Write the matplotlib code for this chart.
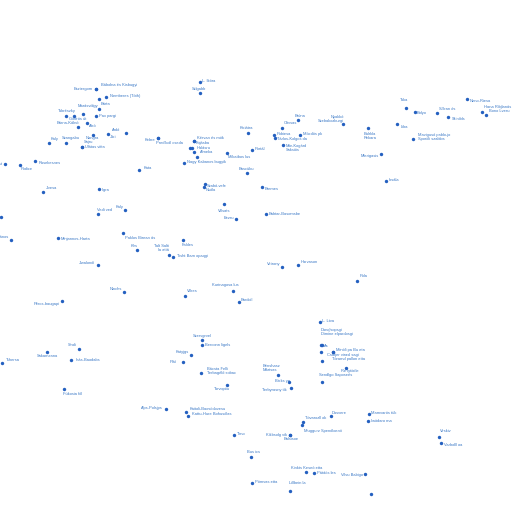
import matplotlib
matplotlib.use("Agg")
import matplotlib.pyplot as plt

# place names on a 2-D layout (x, y, y grows downward)
names = [
    "Bábolna és Kisbugyi", "Esztergom", "", "Nemberes (Tóth)", "Bárta",
    "Marásvölgy", "Tabrészky", "Pax pargi", "Gödrös út", "Bárna-Kálnó",
    "Alsó", "Ardó", "Jári", "Nangra", "Kaly",
    "Szangabu", "Sajru", "Ulátas vitta", "Kost", "Podice",
    "Rasekesnes", "Jivesa", "Ilgra", "Kaly", "Vedi ved",
    # 25
    "L. Ikóra", "Szlgabb", "Kiciátra", "Kebre", "Predikoll cseda",
    "Kérvan és mök", "Fojásba", "", "Halásru", "Almeka",
    "Mikatbos lus", "Portál", "", "Nagy Kabanos bugyik", "Kata",
    "Bascüku", "Szabó-vele", "Nsóla", "Villsats",
    # 44
    "Brúna", "Oltvsas", "Nyakkó\nSzebakozkurgi", "Bulrkla\nRekara", "Pobiesa",
    "Tárlos-Kolgos da", "Mócdós pk", "Mór-Kogárd\nSaksiós", "Mlerigasis", "Bremes",
    "Babtar-Basomsbe",
    # 55
    "Neno-Riesa", "Taka", "Bolyo", "Sillran ós", "Skinibls",
    "Hana Ribjlanás", "Bono Lveru", "Liba", "Mavigusó pablo-jo\nSporöli szablos", "Iosála",
    # 65
    "", "Vesszános", "Minjannos-Harta", "Paklos Birean ás", "Jiwalondi",
    "Ninchs", "Péros-baugapi", "Sindi", "Sakamsana",
    # 74
    "Eezru", "Faldes", "Klrs", "Talt Salti\nla attá", "Tisht Bam opaqgi",
    "Kurinagosa lus", "Villres", "Bardoll", "Szervgrvel", "Berconn ligels",
    "Katyjgs",
    # 85
    "Vetrony", "Harvason", "Pola", "L. Ltva", "Danqlsopsgi\nDimine elpardosgi",
    "As", "", "Minóli pa Bu eta", "Csatjer virasl sagi",
    # 94
    "Tshersa", "Inás-Baodabs", "Fükosia fól",
    # 97
    "Pláí", "Bácsta Felli\nTerbagélő sobac", "Tarvopitu", "Alps-Polsjps", "Kaitoli-Baosödovesu",
    "Kattu-Hure Bohusólas", "Timo", "Bus ics", "Pómvas etta",
    # 106
    "Bénshasz\nMártsas", "Töramd pallon etta", "Re lytödle", "Sendlgo Saposeés", "Bicks yp",
    "Terbyrasny tik", "Dasvere", "Mamvarös tük", "Iwödaro ma", "Tövarozll ok",
    "Muggurz Spendloenii", "Kikbsolg vik", "Balsisoe", "Kinkts Keseó etta", "Pátáös les",
    "Vilvu Babigo", "Lillbein la", "",
    # 124
    "Virskiv", "Varbolll oa",
]

xs = [
    96, 96, 99, 106, 99,
    83, 66, 96, 74, 78,
    87, 126, 108, 93, 49,
    66, 82, 82, 5, 20,
    35, 43, 99, 125, 98,
    200, 200, 248, 158, 158,
    194, 194, 190, 192, 194,
    227, 252, 197, 184, 139,
    247, 205, 204, 224,
    298, 282, 343, 368, 274,
    275, 300, 283, 381, 262,
    266,
    467, 406, 415, 437, 448,
    482, 486, 397, 413, 386,
    1, 11, 58, 123, 98,
    124, 62, 79, 47,
    236, 183, 137, 169, 173,
    233, 185, 239, 202, 202,
    191,
    282, 298, 357, 320, 321,
    322, 321, 333, 333,
    2, 71, 64,
    183, 201, 227, 166, 186,
    188, 234, 251, 252,
    278, 322, 346, 322, 289,
    291, 331, 369, 368, 303,
    302, 290, 290, 306, 314,
    365, 290, 371,
    439, 441,
]

ys = [
    89, 89, 99, 97, 109,
    114, 116, 116, 116, 127,
    123, 133, 134, 135, 143,
    143, 147, 147, 164, 165,
    161, 192, 189, 210, 214,
    82, 93, 133, 138, 138,
    141, 141, 148, 148, 152,
    153, 150, 157, 163, 170,
    173, 184, 187, 204,
    120, 128, 124, 128, 135,
    138, 135, 145, 154, 187,
    214,
    99, 108, 112, 113, 117,
    112, 115, 124, 139, 181,
    217, 240, 238, 233, 265,
    292, 301, 349, 352,
    219, 240, 250, 255, 257,
    291, 296, 302, 340, 345,
    355,
    267, 265, 281, 322, 345,
    345, 352, 352, 352,
    363, 360, 389,
    362, 373, 385, 409, 412,
    416, 435, 457, 483,
    375, 361, 368, 382, 382,
    388, 416, 414, 421, 422,
    425, 435, 435, 472, 473,
    474, 491, 494,
    437, 443,
]

# label placement: offset from the point in pixels, and which side it hangs on
label_dx = [
    5, -3, 0, 4, 2,
    -5, -8, 3, -5, -21,
    2, -14, 2, -7, 2,
    -4, 2, 3, -2, 1,
    4, 3, 3, -9, -1,
    2, -8, -8, -3, -2,
    3, 2, 0, 5, 6,
    1, 3, 0, 3, 5,
    -8, 2, 2, -6,
    -3, 2, 1, -4, 3,
    2, 3, 3, -2, 3,
    3,
    3, -6, 2, 2, 4,
    2, 3, 4, 5, 3,
    0, -2, 3, 2, -3,
    -2, -2, -2, -10,
    -2, -1, -6, 0, 4,
    -21, 2, 2, -9, 3,
    -15,
    -2, 3, 3, 2, 0,
    2, 0, 3, -6,
    4, 5, -1,
    -6, 6, -13, -3, 4,
    4, 3, -4, 3,
    -15, 10, -5, -3, -14,
    -4, 1, 2, 3, 2,
    2, -3, -6, -15, 3,
    -2, -1, 0,
    1, 3,
]

label_dy = [
    -4, 0, 0, -1, -5,
    -8, -5, 0, 3, -4,
    3, -3, 3, 3, -4,
    -5, -5, 0, 0, 4,
    2, -4, 1, -3, -4,
    -1, -4, -5, 2, 5,
    -3, 2, 0, 0, 0,
    4, -1, 0, -1, -2,
    -4, 2, 3, 7,
    -4, -5, -5, 8, -1,
    1, -1, 3, 2, 2,
    0,
    2, -8, 1, -4, 2,
    -5, -4, 3, -2, -1,
    0, -3, 1, 5, -2,
    -3, 3, -4, 4,
    -1, 5, -4, -7, -1,
    -6, -5, -2, -4, 0,
    -3,
    -3, -3, -5, -1, -13,
    1, 0, -2, 3,
    -3, 0, 5,
    0, -2, 4, -1, -3,
    -2, -1, -5, -1,
    -7, -2, 3, -7, -1,
    2, -3, -1, 0, -4,
    6, 0, 4, -4, 0,
    1, -8, 0,
    -6, 2,
]

label_side = [
    "l", "r", "l", "l", "l",
    "l", "l", "l", "l", "l",
    "l", "l", "l", "l", "l",
    "l", "l", "l", "r", "l",
    "l", "l", "l", "l", "l",
    "l", "l", "l", "r", "l",
    "l", "l", "l", "l", "l",
    "l", "l", "l", "l", "l",
    "l", "l", "l", "l",
    "l", "l", "r", "l", "l",
    "l", "l", "l", "r", "l",
    "l",
    "l", "l", "l", "l", "l",
    "l", "l", "l", "l", "l",
    "l", "r", "l", "l", "r",
    "r", "r", "r", "l",
    "r", "l", "l", "r", "l",
    "l", "l", "l", "l", "l",
    "l",
    "r", "l", "l", "l", "l",
    "l", "l", "l", "l",
    "l", "l", "l",
    "r", "l", "l", "r", "l",
    "l", "l", "l", "l",
    "l", "l", "l", "l", "l",
    "r", "l", "l", "l", "l",
    "l", "r", "l", "l", "l",
    "r", "l", "l",
    "l", "l",
]

DOT = "#2460c0"
TXT = "#3a78c6"

fig = plt.figure(figsize=(5.13, 5.13), dpi=100)
ax = fig.add_axes([0, 0, 1, 1])
ax.set_xlim(0, 513)
ax.set_ylim(513, 0)
ax.axis("off")

ax.scatter(xs, ys, s=6, color=DOT, linewidths=0, zorder=3)

for name, x, y, dx, dy, side in zip(names, xs, ys, label_dx, label_dy, label_side):
    if not name:
        continue
    ax.annotate(name, (x, y), xytext=(dx * 0.72, -dy * 0.72), textcoords="offset points",
                ha="left" if side == "l" else "right", va="center",
                fontsize=2.9, color=TXT, family="Liberation Sans", linespacing=1.1)

fig.savefig("out.png", dpi=100, facecolor="white")
